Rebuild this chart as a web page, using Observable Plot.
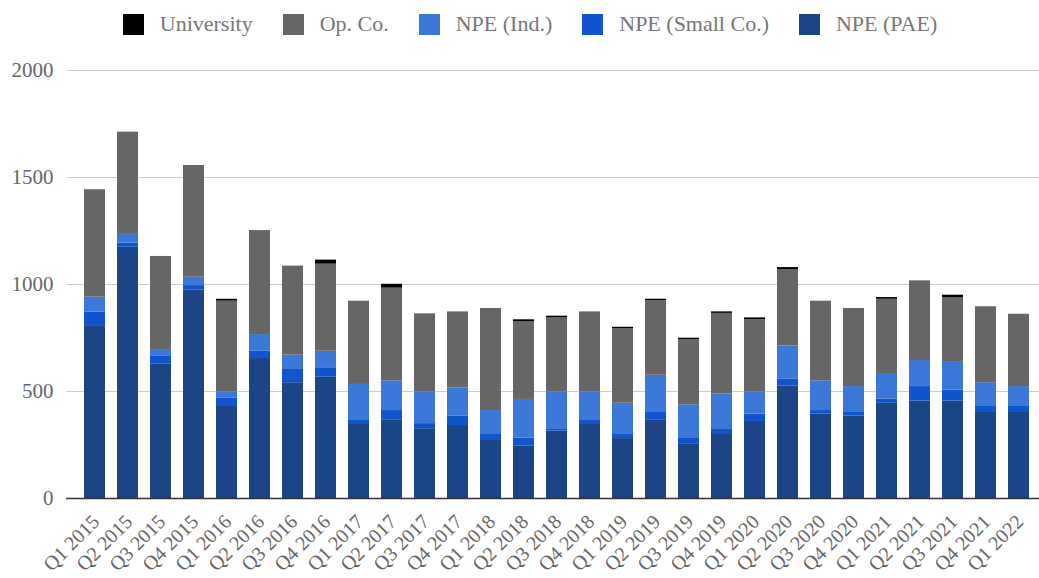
<!DOCTYPE html>
<html>
<head>
<meta charset="utf-8">
<script src="https://cdn.jsdelivr.net/npm/d3@7"></script>
<script src="https://cdn.jsdelivr.net/npm/@observablehq/plot@0.6"></script>
<style>
  html, body { margin: 0; padding: 0; background: #fff; }
  #wrap { width: 1039px; height: 578px; overflow: hidden; }
  #legend {
    box-sizing: border-box; width: 1039px; height: 46px;
    padding-left: 21px; padding-top: 12px;
    display: flex; justify-content: center; align-items: flex-start;
    font-family: "Liberation Serif", "Times New Roman", serif; font-size: 22px; color: #777;
  }
  .item { display: flex; align-items: center; margin: 0 15px; white-space: nowrap; }
  .sw { width: 21px; height: 21px; margin-right: 16px; }
  .item span { line-height: 24px; }
  svg { display: block; }
</style>
</head>
<body>
<div id="wrap">
  <div id="legend"></div>
  <div id="chart"></div>
</div>
<script>
const quarters = ["Q1 2015","Q2 2015","Q3 2015","Q4 2015","Q1 2016","Q2 2016","Q3 2016","Q4 2016",
  "Q1 2017","Q2 2017","Q3 2017","Q4 2017","Q1 2018","Q2 2018","Q3 2018","Q4 2018",
  "Q1 2019","Q2 2019","Q3 2019","Q4 2019","Q1 2020","Q2 2020","Q3 2020","Q4 2020",
  "Q1 2021","Q2 2021","Q3 2021","Q4 2021","Q1 2022"];

const npePAE   = [804,1174,629,975,430,654,541,567,350,368,326,341,271,246,315,350,280,368,256,299,360,525,394,385,445,455,455,402,402];
const npeSmall = [67,19,35,20,40,34,62,44,18,43,24,45,28,36,11,18,19,34,28,27,34,34,17,17,19,68,51,28,28];
const npeInd   = [70,41,32,39,27,78,67,77,165,139,147,130,112,181,171,129,146,174,154,163,103,154,139,121,120,122,130,111,93];
const opCo     = [502,478,435,522,425,486,416,407,389,433,366,356,477,364,347,375,348,348,304,376,339,357,372,365,347,372,303,355,338];
const university = [0,0,0,0,9,0,0,19,0,18,0,0,0,8,8,0,7,7,7,7,8,9,0,0,8,0,11,0,0];

const legendOrder = ["University","Op. Co.","NPE (Ind.)","NPE (Small Co.)","NPE (PAE)"];
const colors      = ["#000000","#666666","#3c78d8","#1155cc","#1c4587"];
const yTicks = [0,500,1000,1500,2000];

const seriesList = [
  {name: "NPE (PAE)", values: npePAE},
  {name: "NPE (Small Co.)", values: npeSmall},
  {name: "NPE (Ind.)", values: npeInd},
  {name: "Op. Co.", values: opCo},
  {name: "University", values: university}
];
const stackOrder = seriesList.map(s => s.name);

const data = quarters.flatMap((q, i) => seriesList.map(s => ({quarter: q, series: s.name, value: s.values[i]})));

// legend
const legend = document.getElementById("legend");
legendOrder.forEach((name, i) => {
  const it = document.createElement("div");
  it.className = "item";
  const sw = document.createElement("div");
  sw.className = "sw";
  sw.style.background = colors[i];
  const t = document.createElement("span");
  t.textContent = name;
  it.appendChild(sw); it.appendChild(t);
  legend.appendChild(it);
});

const font = '"Liberation Serif", "Times New Roman", serif';

const chart = Plot.plot({
  width: 1039,
  height: 532,
  marginLeft: 66,
  marginRight: 0,
  marginTop: 24,
  marginBottom: 80,
  style: {fontFamily: font, color: "#666", background: "#fff"},
  x: {domain: quarters, range: [66, 1048], paddingInner: 0.35, paddingOuter: 0.37},
  y: {domain: [0, 2000]},
  color: {domain: legendOrder, range: colors},
  marks: [
    Plot.gridY(yTicks.filter(d => d > 0), {stroke: "#cccccc", strokeOpacity: 1, strokeWidth: 1.2}),
    Plot.barY(data, {x: "quarter", y: "value", fill: "series", order: stackOrder}),
    Plot.ruleY([0], {stroke: "#333", strokeWidth: 1.3}),
    Plot.axisY(yTicks, {tickSize: 0, tickPadding: 13, fontSize: 21, tickFormat: d => String(d), label: null}),
    Plot.axisX({tickSize: 0, tickRotate: -45, tickPadding: 20, dx: 1, fontSize: 20, label: null})
  ]
});
document.getElementById("chart").appendChild(chart);
</script>
</body>
</html>
